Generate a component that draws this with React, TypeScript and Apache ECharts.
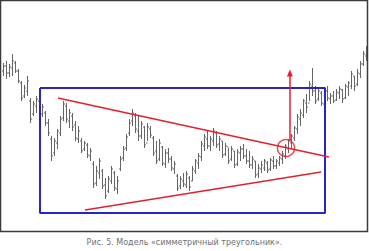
import React, { useEffect, useRef } from "react";
import * as echarts from "echarts";

// OHLC prices (arbitrary price units), one bar per session
const highs = [168,170,167,177,170,162,150,146,155,133,130,135,132,127,120,112,95,93,102,115,130,128,122,118,110,105,93,90,88,83,70,65,73,62,53,55,65,60,55,75,85,97,112,122,118,115,110,105,108,105,95,90,92,85,82,83,75,70,57,55,58,60,55,65,72,78,90,97,100,95,103,100,95,90,88,83,85,80,82,85,87,82,80,75,70,67,70,72,70,73,75,72,75,80,87,92,97,105,117,122,132,137,150,163,145,142,140,143,145,138,140,142,145,142,147,150,160,155,162,170,180,185];
const lows = [155,152,154,155,158,148,130,133,135,108,115,118,112,114,105,95,70,75,82,95,110,108,103,100,90,88,78,80,73,70,43,45,52,42,32,38,47,40,37,60,70,80,95,105,98,90,92,83,90,93,75,67,70,65,63,68,60,57,40,42,44,43,40,50,57,62,70,80,82,80,85,83,80,73,75,67,70,63,65,70,72,67,63,62,53,53,58,60,58,60,62,62,65,67,72,78,82,90,97,105,113,118,130,135,127,130,125,123,130,127,128,130,132,128,132,135,142,140,145,153,165,170];
const opens = [160,165,158,163,168,160,148,135,140,130,117,125,130,117,118,108,92,78,88,98,113,125,110,115,106,92,90,82,86,75,67,48,58,60,46,40,50,58,42,62,73,83,98,110,115,100,95,104,88,102,93,80,72,84,67,78,72,62,55,45,50,46,53,50,60,68,74,85,92,85,90,98,87,90,77,84,72,80,67,78,82,75,70,66,70,57,62,63,68,62,70,65,68,72,75,82,88,93,102,112,116,128,128,145,140,132,138,127,140,132,135,131,138,141,133,144,145,155,147,157,167,175];
const closes = [165,158,164,170,160,150,133,143,150,112,127,132,115,124,108,98,75,90,100,112,127,112,118,104,93,100,80,88,76,80,47,60,70,45,35,52,62,43,50,72,82,94,108,118,102,95,107,86,104,96,78,70,88,68,78,72,63,67,43,52,47,57,44,62,70,75,87,94,85,92,100,86,92,76,85,70,82,66,79,82,75,70,66,72,56,63,66,70,61,71,65,70,73,77,85,90,95,103,114,118,130,124,147,140,130,140,128,140,133,135,130,139,142,132,145,148,157,145,158,167,177,183];

const captionText = "Рис. 5. Модель «симметричный треугольник».";

// annotation geometry in chart (index, price) coordinates
const boxCorners = [[12.5, 143], [107.5, 143], [107.5, 18], [12.5, 18], [12.5, 143]];
const upperTrend = [[18.5, 133], [108.8, 74]];
const lowerTrend = [[27.5, 21], [106.2, 59]];
const breakoutPoint = [[94.5, 83]];
const arrowFrom = [95.8, 91];
const arrowTo = [95.8, 158];

export default function App() {
  const ref = useRef<HTMLDivElement>(null);
  useEffect(() => {
    document.body.style.margin = "0";
    const chart = echarts.init(ref.current!, undefined, { renderer: "svg" });
    const ohlc = highs.map((h, i) => [i, opens[i], closes[i], lows[i], h]);
    const red = "#e5202a";
    const blue = "#2626c4";
    chart.setOption({
      animation: false,
      backgroundColor: "#ffffff",
      grid: { left: 1, top: 1, width: 366, height: 230 },
      xAxis: { type: "value", min: -0.5, max: highs.length - 0.5, show: false },
      yAxis: { type: "value", min: 0, max: 230, show: false },
      graphic: [
        {
          type: "rect",
          shape: { x: 0.5, y: 0.5, width: 367, height: 231 },
          style: { fill: "none", stroke: "#3a3a3a", lineWidth: 1.5 },
          z: 100,
        },
        {
          type: "text",
          left: "center",
          top: 238,
          style: {
            text: captionText,
            fill: "#707070",
            font: "8px 'DejaVu Sans', Verdana, sans-serif",
          },
        },
      ],
      series: [
        {
          type: "custom",
          data: ohlc,
          renderItem: (params: any, api: any) => {
            const i = api.value(0);
            const o = api.coord([i, api.value(1)]);
            const c = api.coord([i, api.value(2)]);
            const l = api.coord([i, api.value(3)]);
            const h = api.coord([i, api.value(4)]);
            const x = Math.round(o[0]) + 0.5;
            const st = { stroke: "#666666", lineWidth: 1 };
            return {
              type: "group",
              children: [
                { type: "line", shape: { x1: x, y1: h[1], x2: x, y2: l[1] }, style: st },
                { type: "line", shape: { x1: x - 1.5, y1: o[1], x2: x, y2: o[1] }, style: st },
                { type: "line", shape: { x1: x, y1: c[1], x2: x + 1.5, y2: c[1] }, style: st },
              ],
            };
          },
        },
        {
          type: "line",
          data: boxCorners,
          symbol: "none",
          lineStyle: { color: blue, width: 2 },
        },
        {
          type: "line",
          data: upperTrend,
          symbol: "none",
          lineStyle: { color: red, width: 1.5 },
        },
        {
          type: "line",
          data: lowerTrend,
          symbol: "none",
          lineStyle: { color: red, width: 1.5 },
        },
        {
          type: "scatter",
          data: breakoutPoint,
          symbol: "circle",
          symbolSize: 17,
          itemStyle: { color: "rgba(0,0,0,0)", borderColor: red, borderWidth: 1.5 },
        },
        {
          type: "line",
          data: [],
          markLine: {
            silent: true,
            symbol: ["none", "triangle"],
            symbolSize: [6, 7],
            label: { show: false },
            lineStyle: { color: red, width: 1.5, type: "solid" },
            data: [[{ coord: arrowFrom }, { coord: arrowTo }]],
          },
        },
      ],
    });
    return () => chart.dispose();
  }, []);
  return (
    <div
      ref={ref}
      style={{ position: "absolute", left: 0, top: 0, width: 369, height: 251 }}
    />
  );
}
